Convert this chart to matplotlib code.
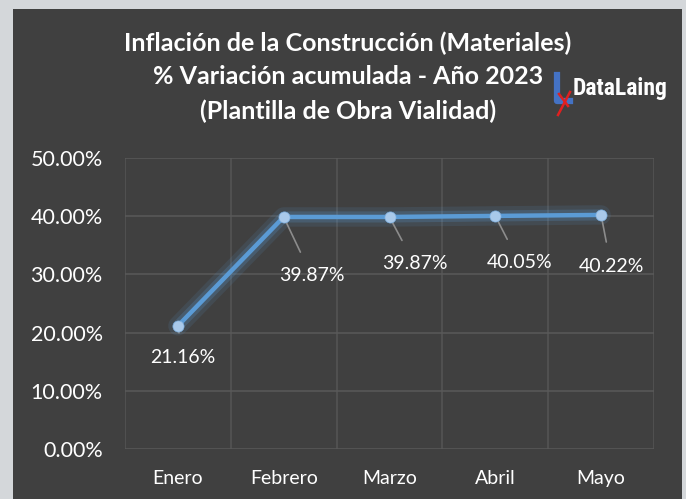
import matplotlib.pyplot as plt
from matplotlib.patches import Rectangle
from matplotlib.lines import Line2D
import numpy as np

plt.rcParams['font.family'] = ['Lato', 'DejaVu Sans']

# data
months = ['Enero', 'Febrero', 'Marzo', 'Abril', 'Mayo']
values = [21.16, 39.87, 39.87, 40.05, 40.22]
yticks = [0, 10, 20, 30, 40, 50]
# label offsets (pixels) relative to each point
label_offsets = [(5, -32), (28, -59), (25, -47), (24, -47), (10, -52)]

bg = '#404040'
fig = plt.figure(figsize=(6.86, 4.99), dpi=100)
fig.patch.set_facecolor('#d4d7da')

# dark chart area
fig.patches.append(Rectangle((13 / 686, 0), (682 - 13) / 686, 1 - 9 / 499,
                             transform=fig.transFigure, facecolor=bg,
                             edgecolor='none', zorder=-5))

ax = fig.add_axes([125 / 686, 1 - 449 / 499, (654 - 125) / 686, (449 - 158) / 499])
ax.set_facecolor(bg)
x = np.arange(len(months))

# glow
ax.plot(x, values, color='#5b9bd5', lw=14, alpha=0.12, solid_capstyle='round', zorder=2)
ax.plot(x, values, color='#5b9bd5', lw=8, alpha=0.22, solid_capstyle='round', zorder=2)
ax.plot(x, values, color='#5b9bd5', lw=3.2, zorder=3)
ax.plot(x, values, 'o', ms=8, color='#a9c9ea', mec='#7fb0e0', mew=0.5, zorder=4)

for i, v in enumerate(values):
    dx, dy = label_offsets[i]
    ax.annotate(f'{v:.2f}%', (x[i], v), xytext=(dx, dy), textcoords='offset pixels',
                ha='center', va='center', color='white', fontsize=14,
                arrowprops=dict(arrowstyle='-', color='#8c8c8c', lw=1.2,
                                shrinkA=10, shrinkB=0))

ax.set_xlim(-0.5, 4.5)
ax.set_ylim(0, 50)
ax.set_xticks(x)
ax.set_xticklabels(months)
ax.set_xticks(np.arange(-0.5, 5, 1), minor=True)
ax.set_yticks(yticks)
ax.set_yticklabels([f'{t:.2f}%' for t in yticks])
ax.tick_params(axis='both', which='both', length=0, colors='white', labelsize=14)
ax.tick_params(axis='y', labelsize=15.5, pad=16)
ax.tick_params(axis='x', pad=15)
ax.grid(True, axis='y', which='major', color='#5a5a5a', lw=1.1)
ax.grid(True, axis='x', which='minor', color='#555555', lw=1.1)
ax.grid(False, axis='x', which='major')
for s in ax.spines.values():
    s.set_visible(False)
ax.set_axisbelow(True)

title = ('Inflación de la Construcción (Materiales)\n'
         '% Variación acumulada - Año 2023\n(Plantilla de Obra Vialidad)')
fig.text(348 / 686, 1 - 77 / 499, title, ha='center', va='center', color='white',
         fontsize=18, fontweight='bold', linespacing=1.55)

# logo
fig.text(573 / 686, 1 - 88 / 499, 'DataLaing', ha='left', va='center', color='white',
         fontsize=17, fontweight='bold', fontstretch='condensed',
         family=['Roboto Condensed', 'DejaVu Sans'])
tf = fig.transFigure
fig.lines.append(Line2D([557 / 686, 557 / 686, 570 / 686],
                        [1 - 75 / 499, 1 - 101 / 499, 1 - 101 / 499],
                        transform=tf, color='#4472c4', lw=4.5))
fig.lines.append(Line2D([558 / 686, 570 / 686], [1 - 115 / 499, 1 - 92 / 499],
                        transform=tf, color='#e02020', lw=1.8))
fig.lines.append(Line2D([559 / 686, 568 / 686], [1 - 94 / 499, 1 - 106 / 499],
                        transform=tf, color='#e02020', lw=1.8))

fig.savefig('out.png', dpi=100, facecolor=fig.get_facecolor())
